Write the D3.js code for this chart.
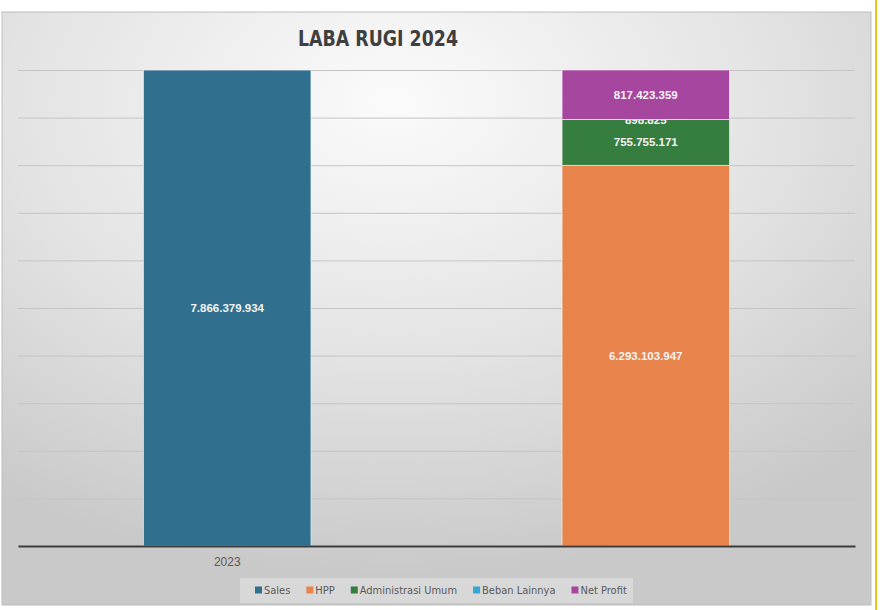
<!DOCTYPE html>
<html>
<head>
<meta charset="utf-8">
<script src="https://cdn.jsdelivr.net/npm/d3@7"></script>
<style>
  body { margin: 0; background: #fff; }
  svg { display: block; }
</style>
</head>
<body>
<svg id="grafico"></svg>
<script>
// dados
const categorias = ['2023', ''];
const series = ['Sales', 'HPP', 'Administrasi Umum', 'Beban Lainnya', 'Net Profit'];
const sales = [7866379934, 0];
const hpp = [0, 6293103947];
const adminUmum = [0, 755755171];
const bebanLainnya = [0, 898825];
const netProfit = [0, 817423359];
const cores = ['#306f8d', '#e8834b', '#367d40', '#35a7d6', '#a7469f'];

const largura = 885, altura = 610;
const margem = { esquerda: 18, direita: 30, superior: 70, inferior: 64 };
const larguraPlotagem = 855 - margem.esquerda;
const alturaPlotagem = 546 - margem.superior;

const svg = d3.select('#grafico').attr('width', largura).attr('height', altura);

// fundo com gradiente
const defs = svg.append('defs');
const grad = defs.append('radialGradient').attr('id', 'fundo')
    .attr('cx', '45%').attr('cy', '15%').attr('r', '80%');
grad.append('stop').attr('offset', '0%').attr('stop-color', '#fbfbfb');
grad.append('stop').attr('offset', '55%').attr('stop-color', '#e3e3e3');
grad.append('stop').attr('offset', '100%').attr('stop-color', '#c9c9c9');

svg.append('rect')
    .attr('x', 2).attr('y', 12).attr('width', 869).attr('height', 593)
    .attr('fill', 'url(#fundo)')
    .attr('stroke', '#bdbdbd').attr('stroke-width', 1);

svg.append('line')
    .attr('x1', 876).attr('x2', 876).attr('y1', 0).attr('y2', altura)
    .attr('stroke', '#f2c21b').attr('stroke-width', 2);

svg.append('text')
    .attr('x', 378).attr('y', 46)
    .attr('text-anchor', 'middle')
    .style('font-family', '"DejaVu Sans Condensed", "Liberation Sans Narrow", Arial, sans-serif')
    .style('font-weight', 'bold')
    .style('font-size', '22px')
    .attr('textLength', 160).attr('lengthAdjust', 'spacingAndGlyphs')
    .attr('fill', '#3f3f3f')
    .text('LABA RUGI 2024');

const plotagem = svg.append('g')
    .attr('transform', 'translate(' + margem.esquerda + ',' + margem.superior + ')');

const dados = categorias.map((c, i) => ({
    chave: c,
    'Sales': sales[i],
    'HPP': hpp[i],
    'Administrasi Umum': adminUmum[i],
    'Beban Lainnya': bebanLainnya[i],
    'Net Profit': netProfit[i]
}));

const pilha = d3.stack().keys(series)(dados);
const maximo = d3.max(dados, d => d3.sum(series, s => d[s]));

const fnX = d3.scaleBand()
    .domain(d3.range(categorias.length))
    .range([0, larguraPlotagem])
    .paddingInner(0.6).paddingOuter(0.3);

const fnY = d3.scaleLinear()
    .domain([0, maximo])
    .range([alturaPlotagem, 0]);

const fnCores = d3.scaleOrdinal().domain(series).range(cores);

// grade
const grade = d3.axisRight(fnY)
    .tickValues(d3.range(1, 11).map(k => maximo * k / 10))
    .tickSize(larguraPlotagem).tickFormat('');
plotagem.append('g').attr('id', 'grade').call(grade)
    .call(g => g.select('.domain').remove())
    .call(g => g.selectAll('line').attr('stroke', '#c4c4c4').attr('stroke-width', 1));

// barras
const grupos = plotagem.selectAll('.serie').data(pilha).enter()
    .append('g').classed('serie', true)
    .attr('fill', d => fnCores(d.key));

grupos.selectAll('.barra').data(d => d.map((v, i) => ({ v: v, i: i, key: d.key })))
    .enter().filter(d => d.v[1] - d.v[0] > 0)
    .append('rect').classed('barra', true)
    .attr('x', d => fnX(d.i))
    .attr('y', d => fnY(d.v[1]))
    .attr('width', fnX.bandwidth())
    .attr('height', d => fnY(d.v[0]) - fnY(d.v[1]))
    .attr('stroke', '#f2f2f2').attr('stroke-width', 0.6);

// rotulos
const fmt = v => d3.format(',')(v).replace(/,/g, '.');
grupos.selectAll('.rotulo').data(d => d.map((v, i) => ({ v: v, i: i, key: d.key })))
    .enter().filter(d => d.v[1] - d.v[0] > 0)
    .append('text').classed('rotulo', true)
    .attr('x', d => fnX(d.i) + fnX.bandwidth() / 2)
    .attr('y', d => (fnY(d.v[0]) + fnY(d.v[1])) / 2)
    .attr('dy', '0.35em')
    .attr('text-anchor', 'middle')
    .style('font-family', '"Liberation Sans", Arial, sans-serif')
    .style('font-weight', 'bold')
    .style('font-size', '11.5px')
    .attr('fill', '#f4f4f4')
    .text(d => fmt(d.v[1] - d.v[0]));

// eixo X
const eixoX = d3.axisBottom(fnX).tickSize(0).tickPadding(11).tickFormat(i => categorias[i]);
plotagem.append('g').attr('id', 'eixoX')
    .attr('transform', 'translate(0,' + alturaPlotagem + ')')
    .call(eixoX)
    .call(g => g.select('.domain').attr('stroke', '#3c3c3c').attr('stroke-width', 2))
    .call(g => g.selectAll('text')
        .style('font-family', '"Liberation Sans", Arial, sans-serif')
        .style('font-size', '12px').attr('fill', '#595959'));

// legenda
svg.append('rect')
    .attr('x', 240).attr('y', 578).attr('width', 393).attr('height', 25)
    .attr('fill', '#dcdcdc').attr('opacity', 0.8);

const legenda = svg.append('g').attr('transform', 'translate(0,590)');
let xLeg = 255;
series.forEach((s) => {
    const g = legenda.append('g').attr('transform', 'translate(' + xLeg + ',0)');
    g.append('rect').attr('x', 0).attr('y', -3.5).attr('width', 7).attr('height', 7)
        .attr('fill', fnCores(s));
    const t = g.append('text').attr('x', 9).attr('y', 0).attr('dy', '0.35em')
        .style('font-family', '"DejaVu Sans Condensed", Arial, sans-serif')
        .style('font-size', '11px')
        .attr('fill', '#595959')
        .text(s);
    xLeg += 9 + t.node().getComputedTextLength() + 16;
});
</script>
</body>
</html>
